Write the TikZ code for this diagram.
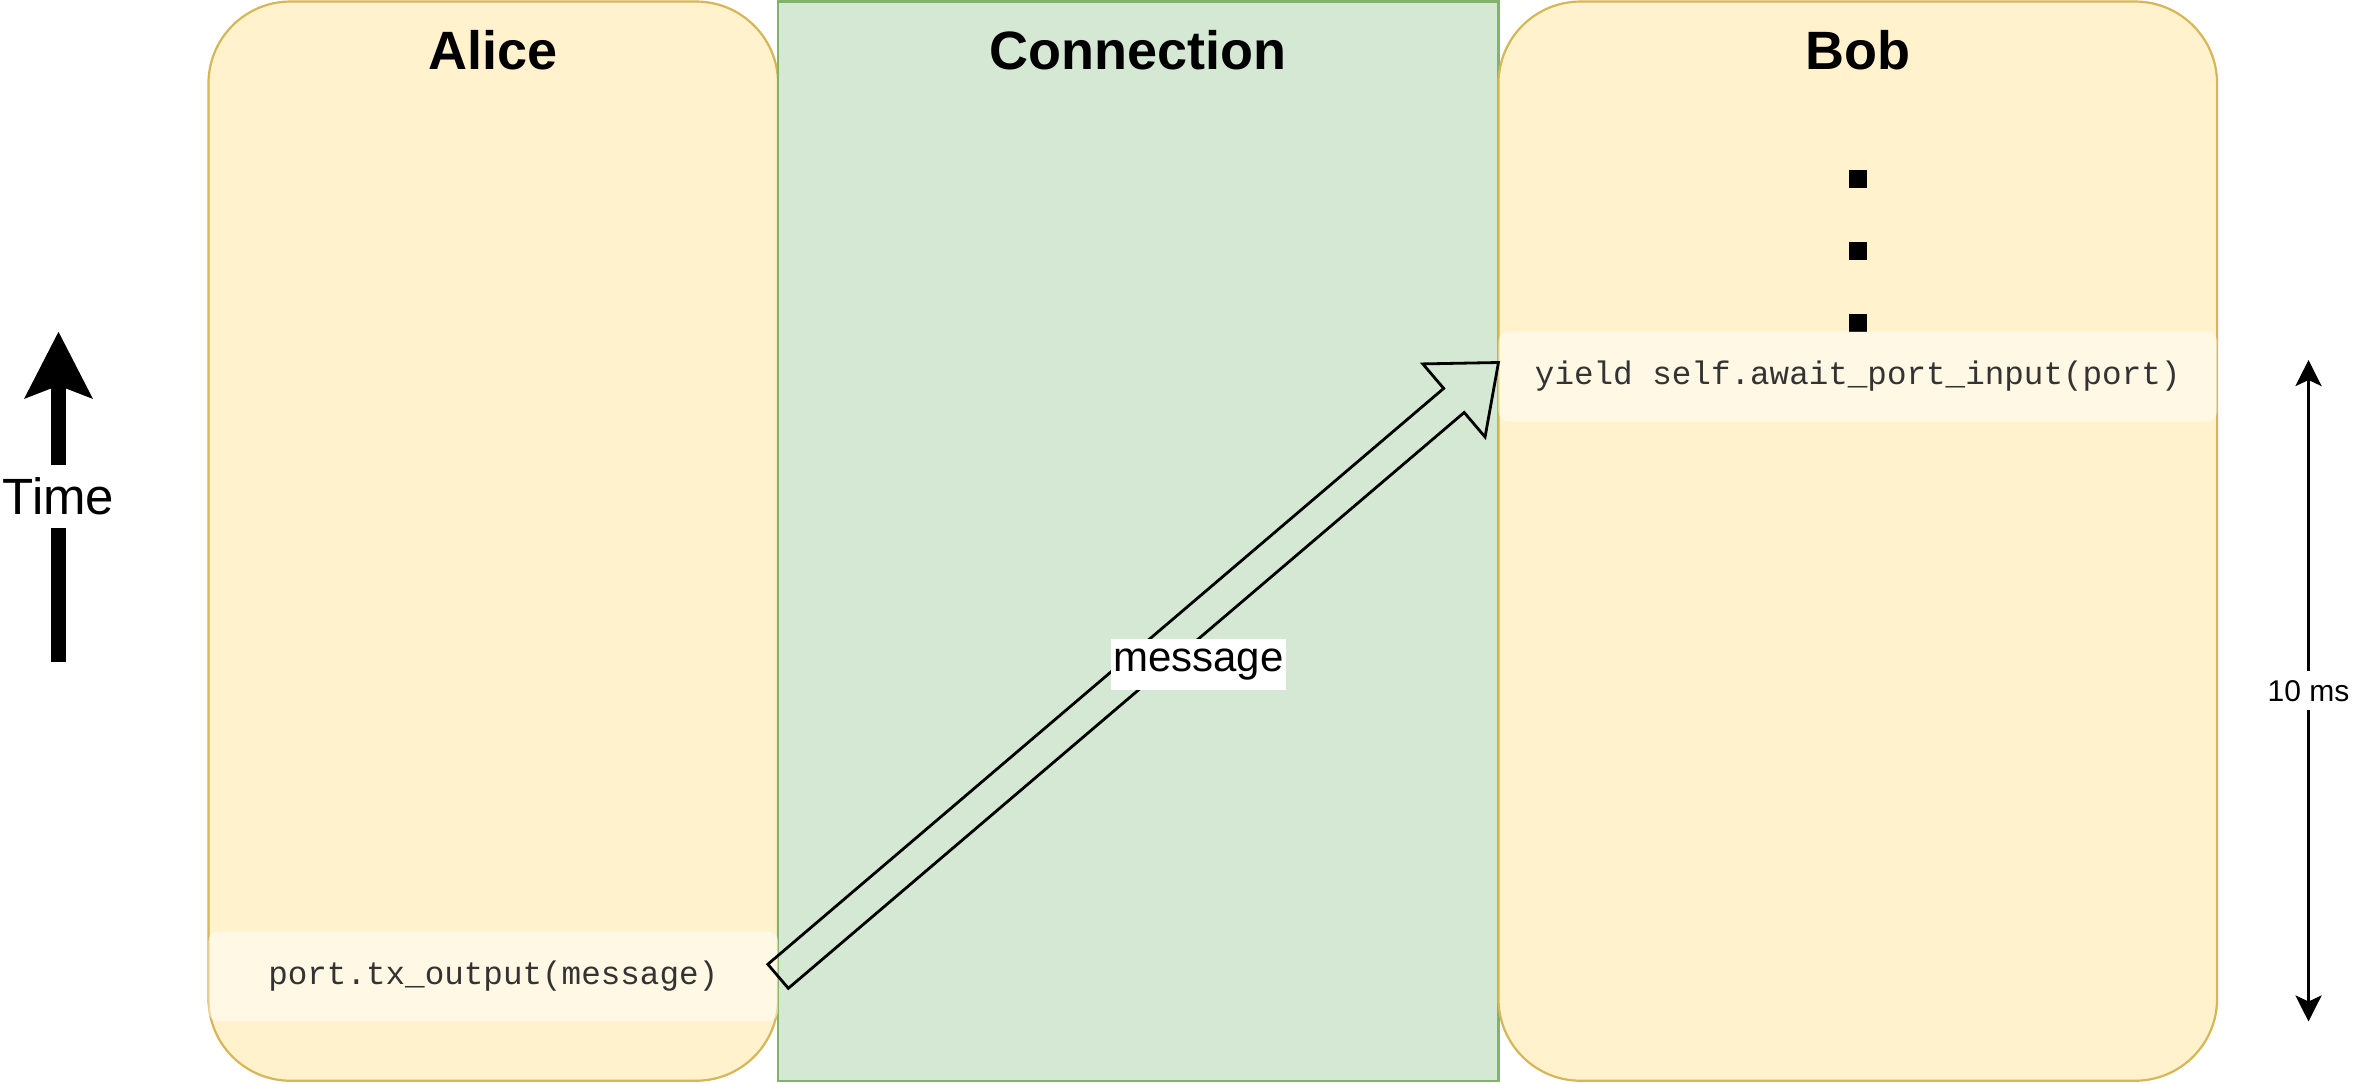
\documentclass[tikz,border=0pt]{standalone}
\usepackage{fontspec}
\setmainfont{Liberation Sans}
\setmonofont{Liberation Mono}
\usepackage{tikz}
\usetikzlibrary{arrows.meta}
\usetikzlibrary{calc}
\usetikzlibrary{positioning}
\definecolor{laneFill}{HTML}{FFF2CC}
\definecolor{laneDraw}{HTML}{D6B656}
\definecolor{pipeFill}{HTML}{D5E8D4}
\definecolor{pipeDraw}{HTML}{82B366}

\begin{document}
\begin{tikzpicture}[x=0.75pt,y=0.75pt,yscale=-1,xscale=1]
  \useasboundingbox (0,0) rectangle (1570,722);
  \tikzstyle{lane} = [draw=laneDraw,fill=laneFill,line width=1.1pt,rounded corners=41pt,minimum height=539.6pt,outer sep=0pt,inner sep=0pt]
  \tikzstyle{pipe} = [draw=pipeDraw,fill=pipeFill,line width=1.1pt,minimum height=539.6pt,outer sep=0pt,inner sep=0pt]
  \tikzstyle{heading} = [font=\fontsize{27}{32}\selectfont\bfseries,anchor=base,inner sep=0pt]
  \tikzstyle{codebox} = [fill=white,fill opacity=0.5,text opacity=1,rounded corners=5pt,minimum height=45pt,outer sep=0pt,inner sep=0pt,text=black!80,font=\fontsize{16.3}{20}\selectfont\ttfamily]
  \tikzstyle{timearrow} = [line width=7.5pt,->,>={Stealth[length=33pt,width=33pt,inset=6pt]}]
  \tikzstyle{spanarrow} = [line width=1.5pt,<->,>={Stealth[length=13pt,width=13pt,inset=3pt]}]
  \tikzstyle{blockarrow} = [line width=1.4pt,line join=miter]
  \tikzstyle{tag} = [fill=white,inner xsep=1pt,inner ysep=0pt]
  %Draw the three lanes
  \node[lane,minimum width=284.8pt] (alice) at (328.85,360.75) {};
  \node[pipe,minimum width=360.2pt,right=0pt of alice] (link) {};
  \node[lane,minimum width=359.3pt,right=0pt of link] (bob) {};
  \node[heading] (aliceTitle) at ($(alice.north)+(0,45)$) {Alice};
  \node[heading] (linkTitle) at ($(link.north)+(0,45)$) {Connection};
  \node[heading] (bobTitle) at ($(bob.north)+(0,45)$) {Bob};
  % Draw the dots
  \foreach \y in {119,167,215}
    \fill (1232.5,\y-6) rectangle +(12,12);
  %Code lines
  \node[codebox,minimum width=284.8pt] (aliceCode) at (328.85,650.85) {port.tx\_output(message)};
  \node[codebox,minimum width=359.3pt] (bobCode) at (1238.5,251) {yield self.await\_port\_input(port)};
  %Draw the message arrow
  \coordinate (msgTail) at (aliceCode.east);
  \coordinate (msgTip) at ([yshift=-7pt]bobCode.west);
  \coordinate (msgNeck) at ($(msgTip)!29.25pt!(msgTail)$);
  \draw[blockarrow] ($(msgTail)!7.9pt!90:(msgTip)$) -- ($(msgNeck)!7.9pt!90:(msgTip)$) -- ($(msgNeck)!24pt!90:(msgTip)$) -- (msgTip)
    -- ($(msgNeck)!24pt!-90:(msgTip)$) -- ($(msgNeck)!7.9pt!-90:(msgTip)$) -- ($(msgTail)!7.9pt!-90:(msgTip)$) -- cycle;
  \node[tag,minimum height=25.5pt,font=\fontsize{21}{25}\selectfont] (msgText) at (799,443) {message};
  %Draw the time axis on the side
  \coordinate (timeFoot) at (39,441);
  \coordinate (timeHead) at (39,221);
  \draw[timearrow] (timeFoot) -- node[tag,minimum height=31.5pt,font=\fontsize{25.5}{30}\selectfont] (timeText) {Time} (timeHead);
  %Draw the span on the right
  \coordinate (spanTop) at (1539,240);
  \coordinate (spanBottom) at (1539,681);
  \draw[spanarrow] (spanTop) -- node[tag,minimum height=19.5pt,font=\fontsize{15}{18}\selectfont] (spanText) {10 ms} (spanBottom);
\end{tikzpicture}
\end{document}
